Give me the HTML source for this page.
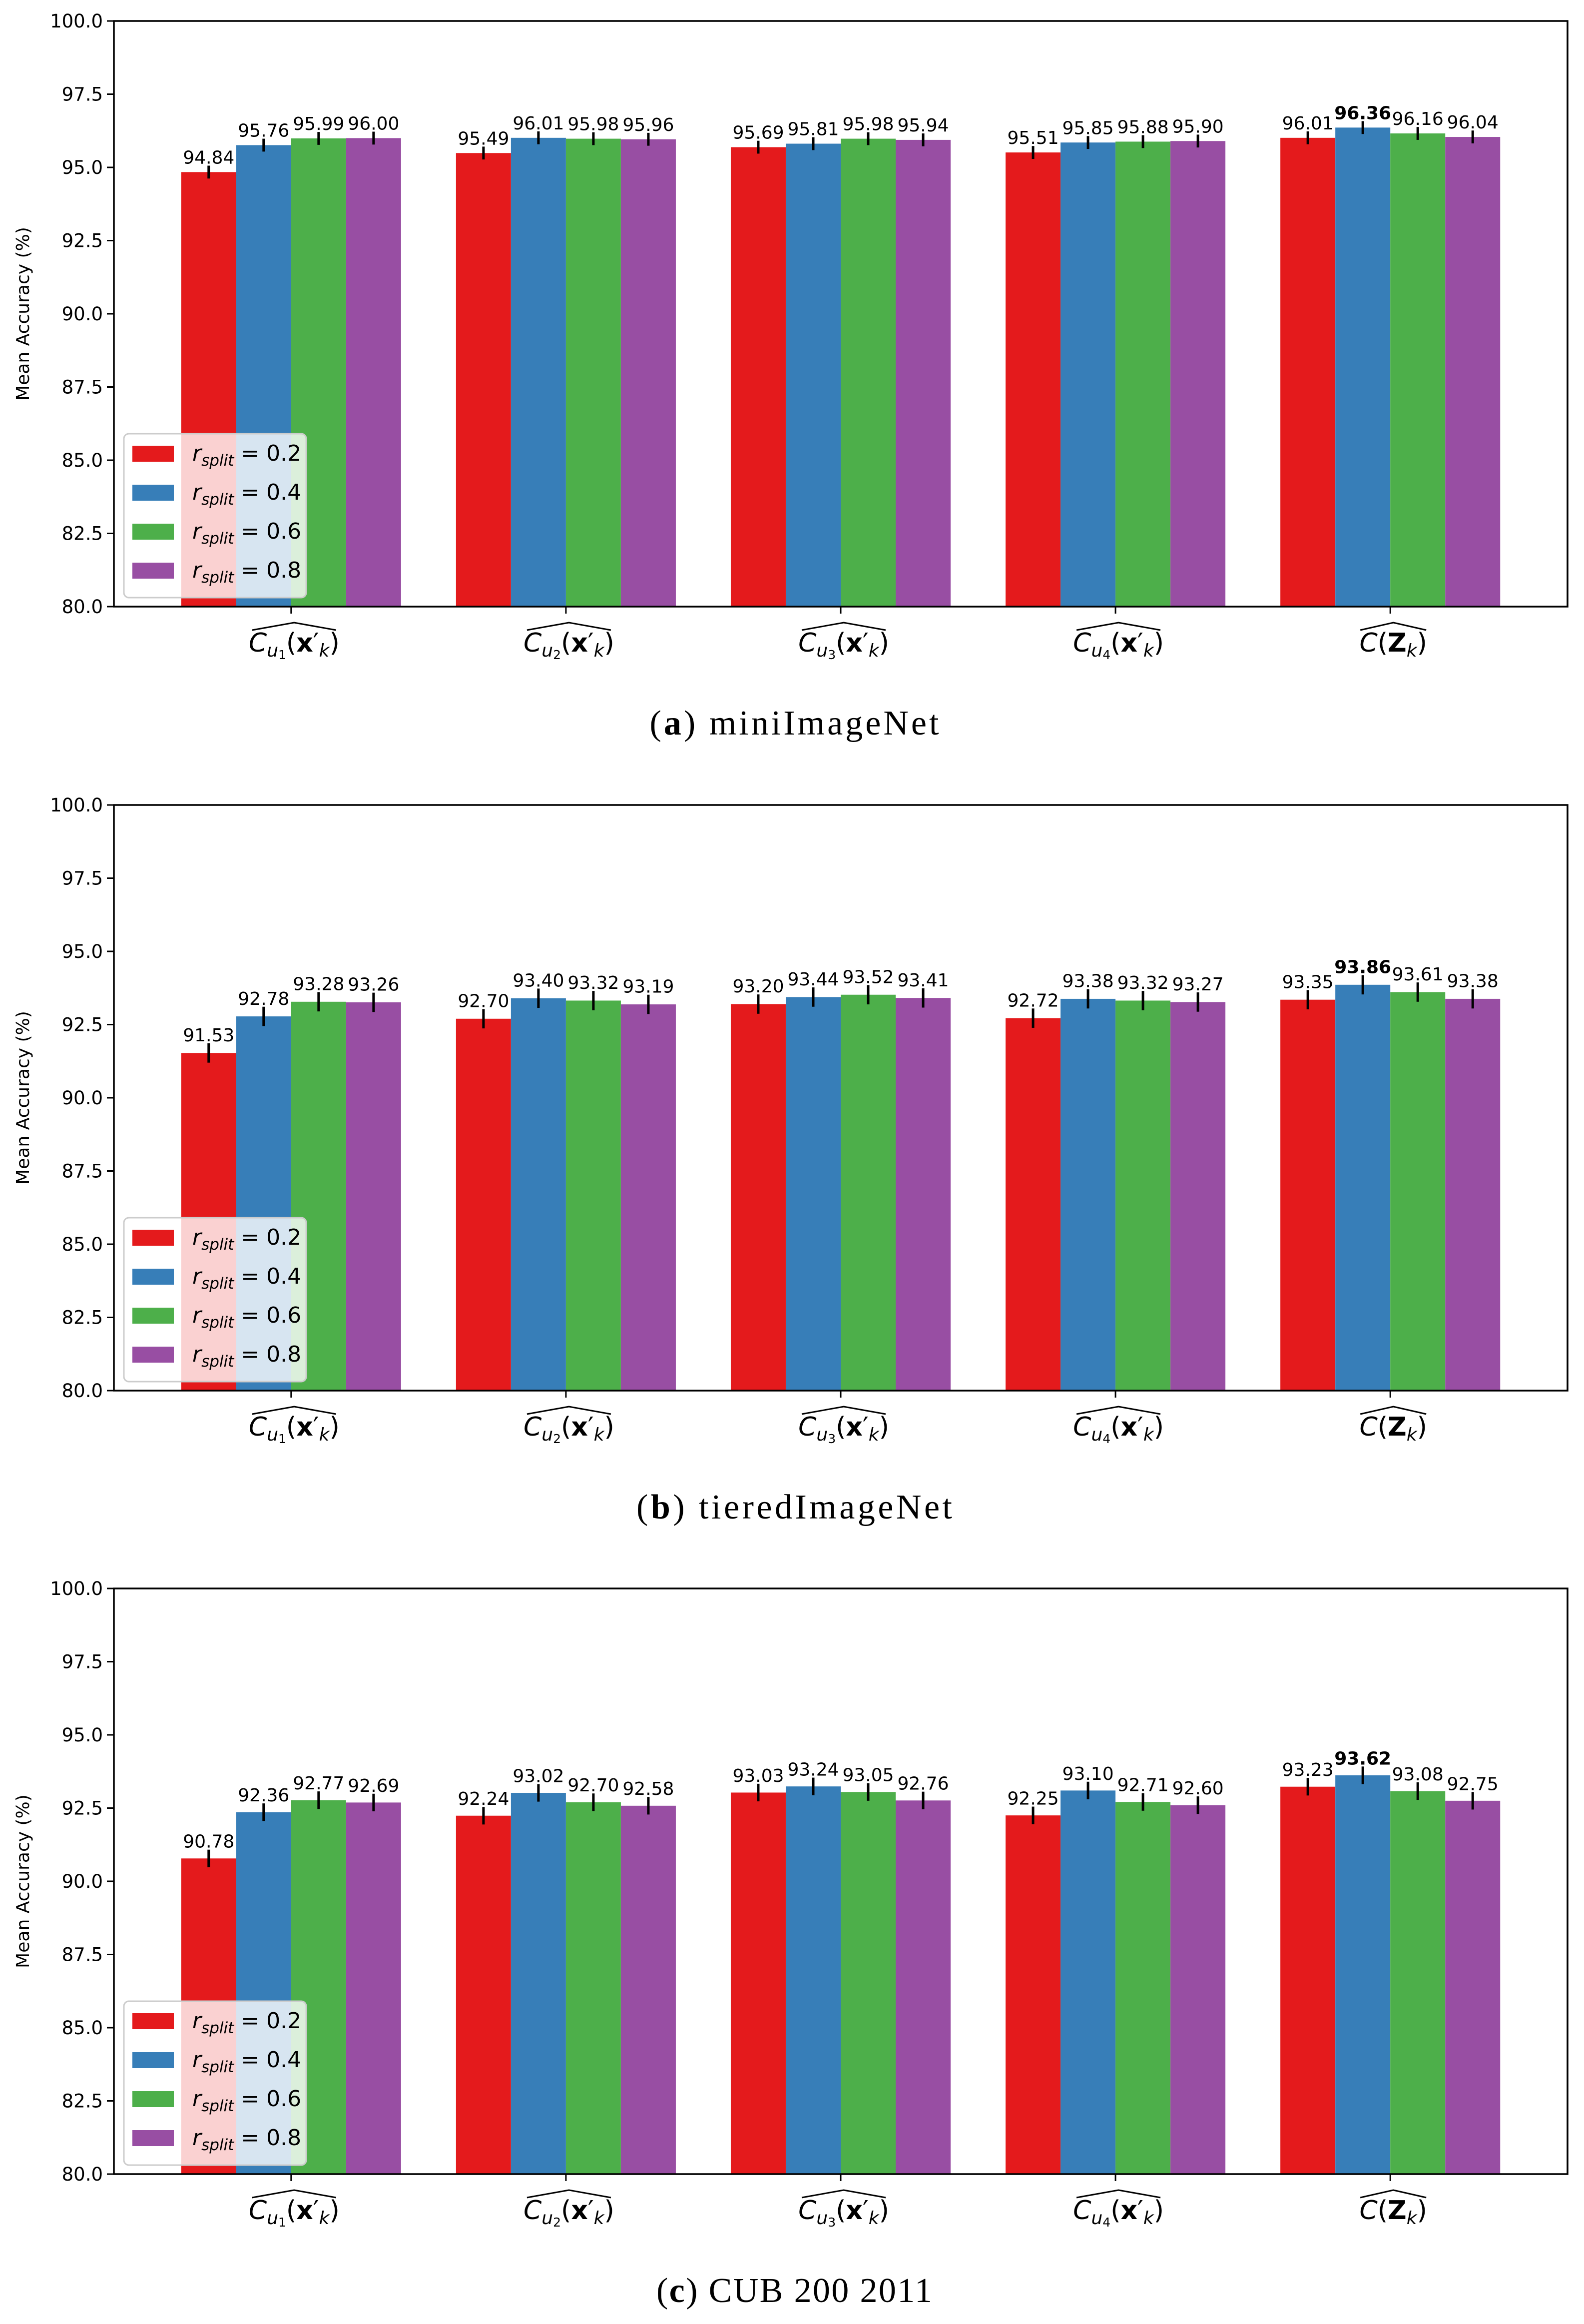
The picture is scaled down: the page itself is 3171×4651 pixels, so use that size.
<!DOCTYPE html>
<html><head><meta charset="utf-8">
<style>
html,body{margin:0;padding:0;background:#fff;}
svg{display:block;}
</style></head>
<body>
<svg id="fig" width="3171" height="4651" viewBox="0 0 3171 4651" xmlns="http://www.w3.org/2000/svg" font-family="DejaVu Sans, Liberation Sans, sans-serif"></svg>
<script>
const categories = ["Cu1", "Cu2", "Cu3", "Cu4", "CZ"];
const seriesNames = ["0.2", "0.4", "0.6", "0.8"];
const colors = ["#e41a1c", "#377eb8", "#4daf4a", "#984ea3"];
const yTicks = [80.0, 82.5, 85.0, 87.5, 90.0, 92.5, 95.0, 97.5, 100.0];
const captionLetters = ["a", "b", "c"];
const captionNames = ["miniImageNet", "tieredImageNet", "CUB 200 2011"];
const miniR02 = [94.84, 95.49, 95.69, 95.51, 96.01];
const miniR04 = [95.76, 96.01, 95.81, 95.85, 96.36];
const miniR06 = [95.99, 95.98, 95.98, 95.88, 96.16];
const miniR08 = [96.00, 95.96, 95.94, 95.90, 96.04];
const tierR02 = [91.53, 92.70, 93.20, 92.72, 93.35];
const tierR04 = [92.78, 93.40, 93.44, 93.38, 93.86];
const tierR06 = [93.28, 93.32, 93.52, 93.32, 93.61];
const tierR08 = [93.26, 93.19, 93.41, 93.27, 93.38];
const cubR02 = [90.78, 92.24, 93.03, 92.25, 93.23];
const cubR04 = [92.36, 93.02, 93.24, 93.10, 93.62];
const cubR06 = [92.77, 92.70, 93.05, 92.71, 93.08];
const cubR08 = [92.69, 92.58, 92.76, 92.60, 92.75];
const errMini = 0.22;
const errTier = 0.33;
const errCub = 0.3;

const charts = [
  {vals:[miniR02,miniR04,miniR06,miniR08], err:errMini, top:42, bottom:1214, capW:579},
  {vals:[tierR02,tierR04,tierR06,tierR08], err:errTier, top:1611, bottom:2783, capW:632},
  {vals:[cubR02,cubR04,cubR06,cubR08], err:errCub, top:3179, bottom:4351, capW:552}
];

const NS = "http://www.w3.org/2000/svg";
const svg = document.getElementById("fig");
function mk(tag, attrs, parent){
  const e = document.createElementNS(NS, tag);
  for (const k in attrs) e.setAttribute(k, attrs[k]);
  (parent||svg).appendChild(e);
  return e;
}
const L = 228, R = 3138;
const unit = (R - L) / 5.29;
function xScale(v){ return L + (v + 0.645) * unit; }

charts.forEach((c, ci) => {
  const g = mk("g", {});
  
  
  const yScale = v => c.bottom - (v - 80) / 20 * (c.bottom - c.top);
  c.vals.forEach((arr, si) => {
    arr.forEach((v, k) => {
      const cx = xScale(k + (si - 1.5) * 0.2);
      const w = 0.2 * unit;
      const r = mk("rect", {x: cx - w/2, y: yScale(v), width: w, height: c.bottom - yScale(v), fill: colors[si]}, g);
      
      
      const eb = mk("line", {x1: cx, x2: cx, y1: yScale(v + c.err), y2: yScale(v - c.err), stroke: "#000", "stroke-width": 5}, g);
      
      
    });
  });
  c.vals.forEach((arr, si) => {
    arr.forEach((v, k) => {
      const cx = xScale(k + (si - 1.5) * 0.2);
      let best = true;
      for (let s = 0; s < 4; s++) for (let j = 0; j < 5; j++) if (c.vals[s][j] > v) best = false;
      const t = mk("text", {x: cx, y: yScale(v + c.err) - 4, "text-anchor": "middle", "font-size": 36, "font-weight": best ? "bold" : "normal", fill: "#000"}, g);
      t.textContent = v.toFixed(2);
      
      
    });
  });
  const fr = mk("rect", {x: L, y: c.top, width: R - L, height: c.bottom - c.top, fill: "none", stroke: "#000", "stroke-width": 3.5}, g);
  
  
  yTicks.forEach(t => {
    const y = yScale(t);
    mk("line", {x1: L - 14, x2: L, y1: y, y2: y, stroke: "#000", "stroke-width": 3}, g);
    const tx = mk("text", {x: L - 22, y: y + 13, "text-anchor": "end", "font-size": 37, fill: "#000"}, g);
    tx.textContent = t.toFixed(1);
    
    
  });
  const yl = mk("text", {x: 58, y: (c.top + c.bottom)/2, "text-anchor": "middle", "font-size": 36, transform: `rotate(-90 58 ${(c.top + c.bottom)/2})`}, g);
  yl.textContent = "Mean Accuracy (%)";
  
  
  categories.forEach((cat, k) => {
    const cx = xScale(k);
    mk("line", {x1: cx, x2: cx, y1: c.bottom, y2: c.bottom + 14, stroke: "#000", "stroke-width": 3}, g);
    const base = c.bottom + 90;
    const t = mk("text", {x: cx + 6, y: base, "text-anchor": "middle", "font-size": 52, fill: "#000"}, g);
    
    
    let hw;
    if (k < 4) {
      t.innerHTML = `<tspan font-style="italic">C</tspan><tspan font-style="italic" font-size="36" dy="10">u</tspan><tspan font-size="25" dy="5">${k+1}</tspan><tspan dy="-15">(</tspan><tspan font-weight="bold">x</tspan><tspan>′</tspan><tspan font-style="italic" font-size="36" dy="10">k</tspan><tspan dy="-10">)</tspan>`;
      hw = 84;
    } else {
      t.innerHTML = `<tspan font-style="italic">C</tspan><tspan>(</tspan><tspan font-weight="bold">Z</tspan><tspan font-style="italic" font-size="36" dy="10">k</tspan><tspan dy="-10">)</tspan>`;
      hw = 66;
    }
    const hat = mk("path", {d: `M${cx+6-hw},${c.bottom+47} L${cx+6},${c.bottom+32} L${cx+6+hw},${c.bottom+47}`, fill: "none", stroke: "#000", "stroke-width": 3}, g);
    
    
  });
  const lg = mk("g", {}, g);
  
  
  const lt = c.bottom - 346;
  mk("rect", {x: 248, y: lt, width: 365, height: 328, rx: 10, fill: "#fff", "fill-opacity": 0.8, stroke: "#ccc", "stroke-width": 3}, lg);
  seriesNames.forEach((s, si) => {
    const yc = lt + 40 + si * 78;
    const p = mk("rect", {x: 265, y: yc - 16, width: 83, height: 32, fill: colors[si]}, lg);
    
    
    const tx = mk("text", {x: 385, y: yc + 14, "font-size": 44, fill: "#000"}, lg);
    tx.innerHTML = `<tspan font-style="italic">r</tspan><tspan font-style="italic" font-size="31" dy="10">split</tspan><tspan dy="-10"> = ${s}</tspan>`;
    
    
  });
  const cap = mk("text", {x: 1590 - c.capW/2, y: c.bottom + 256, "font-size": 70, "font-family": "Liberation Serif, serif", fill: "#000", textLength: c.capW, lengthAdjust: "spacing"});
  cap.innerHTML = `(<tspan font-weight="bold">${captionLetters[ci]}</tspan>) ${captionNames[ci]}`;
  
  
});
</script>
</body></html>
